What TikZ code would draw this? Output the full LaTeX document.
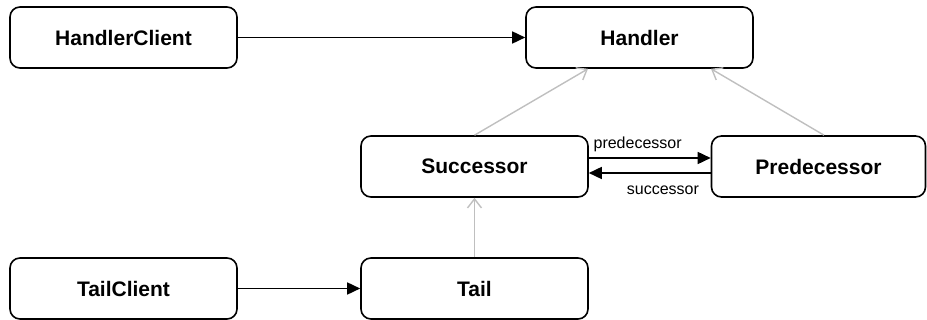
\documentclass[tikz,border=0pt]{standalone}
\usepackage{fontspec}
\setmainfont{Liberation Sans}
\usetikzlibrary{arrows.meta,positioning}
\tikzset{
  cls/.style={draw,line width=1.6pt,rounded corners=10pt,minimum width=227pt,
    minimum height=61pt,inner sep=0pt,font=\fontsize{21}{25}\selectfont\bfseries},
  assoc/.style={-{Triangle[length=13pt,width=12pt]},line width=1.6pt},
  inherit/.style={-{Straight Barb[length=9pt,width=14pt]},line width=1.4pt,color=black!25},
  lbl/.style={font=\fontsize{16}{19}\selectfont,inner sep=0pt}
}
\begin{document}
\begin{tikzpicture}[x=1pt,y=-1pt]
\useasboundingbox (0,0) rectangle (927,320);
%classes
\node[cls] (hclient) at (123.5,37.5) {HandlerClient};
\node[cls] (handler) at (639.5,37.5) {Handler};
\node[cls] (succ) at (474.5,166.5) {Successor};
\node[cls,minimum width=214pt] (pred) at (818.5,166.5) {Predecessor};
\node[cls] (tclient) at (123.5,288.5) {TailClient};
\node[cls] (tail) at (474.5,288.5) {Tail};
%clients
\draw[assoc] (hclient) -- (handler);
\draw[assoc] (tclient) -- (tail);
%inheritance
\draw[inherit] (tail) -- (succ);
\draw[inherit] (succ.north) -- ([xshift=-51.5pt]handler.south);
\draw[inherit] ([xshift=5.5pt]pred.north) -- ([xshift=71.5pt]handler.south);
%links
\draw[assoc] ([yshift=8.5pt]succ.east) -- ([yshift=8.5pt]pred.west)
  node[lbl,pos=0,anchor=base west,xshift=4pt,yshift=9pt] (lpred) {predecessor};
\draw[assoc] ([yshift=-6.5pt]pred.west) -- ([yshift=-6.5pt]succ.east)
  node[lbl,pos=0,anchor=base east,xshift=-11pt,yshift=-22pt] (lsucc) {successor};
\end{tikzpicture}
\end{document}
